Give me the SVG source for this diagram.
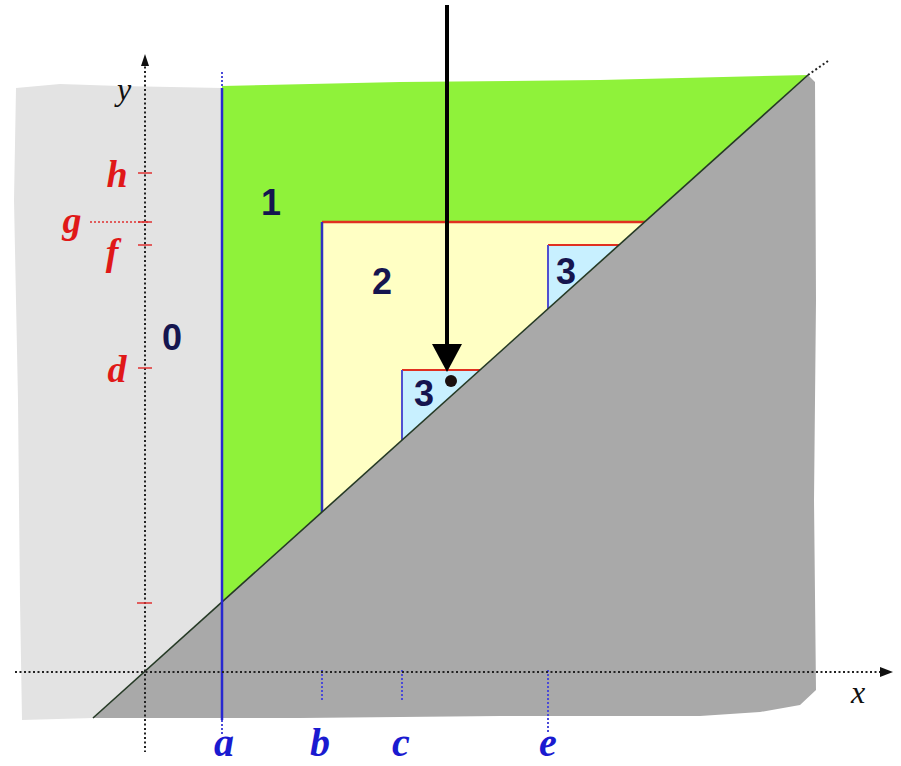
<svg xmlns="http://www.w3.org/2000/svg" width="901" height="766" viewBox="0 0 901 766">
<defs>
<style>
.num{font-family:"Liberation Sans",Arial,sans-serif;font-weight:bold;font-size:36px;fill:#15154f}
.red{font-family:"Liberation Serif","Times New Roman",serif;font-style:italic;font-weight:bold;font-size:38px;fill:#e01818}
.blue{font-family:"Liberation Serif","Times New Roman",serif;font-style:italic;font-weight:bold;font-size:40px;fill:#1a1ad0}
.ax{font-family:"Liberation Serif","Times New Roman",serif;font-style:italic;font-size:32px;fill:#111}
.dot{stroke:#222;stroke-width:2;stroke-dasharray:2 2.5;fill:none}
.bdot{stroke:#4a4ad8;stroke-width:2;stroke-dasharray:2 2;fill:none}
.tick{stroke:#e03030;stroke-width:1.5}
</style>
</defs>
<rect width="901" height="766" fill="#fff"/>
<g id="region0">
<path d="M16,88 L60,84 L120,86 L222,88 L222,603 L93,718 L22,720 L20,600 L18,400 L14,200 Z" fill="#e3e3e3"/>
</g>
<g id="region1">
<path d="M222,86 L400,82 L600,80 L808,75 L222,603 Z" fill="#8ff23a"/>
</g>
<g id="region2">
<path d="M322,222 L645,222 L322,513 Z" fill="#ffffc4"/>
<line x1="322" y1="222" x2="645" y2="222" stroke="#e03020" stroke-width="2.5"/>
<line x1="322" y1="222" x2="322" y2="513" stroke="#3030c0" stroke-width="2.5"/>
</g>
<g id="region3a">
<path d="M402,370 L481,370 L402,441 Z" fill="#c8f0ff"/>
<line x1="402" y1="370" x2="481" y2="370" stroke="#e03020" stroke-width="2"/>
<line x1="402" y1="370" x2="402" y2="441" stroke="#5050d0" stroke-width="2"/>
</g>
<g id="region3b">
<path d="M548,245 L619,245 L548,309 Z" fill="#c8f0ff"/>
<line x1="548" y1="245" x2="619" y2="245" stroke="#e03020" stroke-width="2"/>
<line x1="548" y1="245" x2="548" y2="309" stroke="#5050d0" stroke-width="2"/>
</g>
<g id="below">
<path d="M93,718 L808,75 L815,82 L816,300 L814,500 L816,690 L800,705 L760,712 L700,716 L500,716 L300,718 Z" fill="#a9a9a9"/>
</g>
<g id="connectors">
<line x1="93" y1="718" x2="808" y2="75" stroke="#263a26" stroke-width="1.6"/>
<line x1="808" y1="75" x2="828" y2="61" class="dot"/>
<line x1="222" y1="88" x2="222" y2="720" stroke="#2828d0" stroke-width="2.5"/>
<line x1="222" y1="72" x2="222" y2="88" class="bdot"/>
<line x1="222" y1="720" x2="222" y2="735" class="bdot"/>
<line x1="322" y1="670" x2="322" y2="702" class="bdot"/>
<line x1="402" y1="670" x2="402" y2="700" class="bdot"/>
<line x1="548" y1="670" x2="548" y2="732" class="bdot"/>
<line x1="145" y1="62" x2="145" y2="752" class="dot"/>
<path d="M145,54 L141,66 L149,66 Z" fill="#111"/>
<line x1="15" y1="672" x2="882" y2="672" class="dot"/>
<path d="M893,672 L880,667 L880,677 Z" fill="#111"/>
<line x1="90" y1="222" x2="150" y2="222" stroke="#e03030" stroke-width="1.5" stroke-dasharray="2 2"/>
<line x1="138" y1="173" x2="152" y2="173" class="tick"/>
<line x1="138" y1="222" x2="152" y2="222" class="tick"/>
<line x1="138" y1="245" x2="152" y2="245" class="tick"/>
<line x1="138" y1="368" x2="152" y2="368" class="tick"/>
<line x1="137" y1="603" x2="152" y2="603" class="tick"/>
<line x1="447" y1="5" x2="447" y2="346" stroke="#000" stroke-width="4"/>
<path d="M432,344 L462,344 L447,372 Z" fill="#000"/>
<circle cx="451" cy="381" r="6" fill="#1a1010"/>
</g>
<g id="labels">
<text x="172" y="350" class="num" text-anchor="middle">0</text>
<text x="271" y="215" class="num" text-anchor="middle">1</text>
<text x="382" y="294" class="num" text-anchor="middle">2</text>
<text x="424" y="406" class="num" text-anchor="middle">3</text>
<text x="566" y="284" class="num" text-anchor="middle">3</text>
<text x="117" y="187" class="red" text-anchor="middle">h</text>
<text x="72" y="233" class="red" text-anchor="middle">g</text>
<text x="112" y="265" class="red" text-anchor="middle">f</text>
<text x="117" y="382" class="red" text-anchor="middle">d</text>
<text x="224" y="756" class="blue" text-anchor="middle">a</text>
<text x="320" y="756" class="blue" text-anchor="middle">b</text>
<text x="401" y="756" class="blue" text-anchor="middle">c</text>
<text x="548" y="756" class="blue" text-anchor="middle">e</text>
<text x="124" y="100" class="ax" text-anchor="middle">y</text>
<text x="858" y="703" class="ax" text-anchor="middle">x</text>
</g>
</svg>
